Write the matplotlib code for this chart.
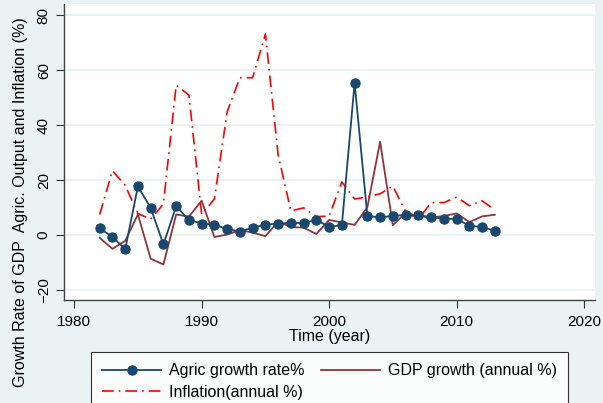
import matplotlib
matplotlib.use("Agg")
import matplotlib.pyplot as plt
from matplotlib.lines import Line2D

years = list(range(1982, 2014))
agric = [2.4, -0.6, -5.2, 17.7, 9.9, -3.4, 10.5, 5.5, 4.2, 3.8, 2.2, 1.3, 2.7, 3.8, 4.2, 4.4,
         4.4, 5.5, 3.0, 3.6, 55.3, 7.0, 6.4, 7.0, 7.3, 7.3, 6.5, 5.9, 5.9, 3.4, 2.9, 1.6]
gdp = [-1.0, -5.0, -2.1, 7.5, -8.6, -10.7, 7.5, 6.7, 12.5, -0.7, 0.2, 1.8, 0.9, -0.4, 4.9, 2.9,
       2.7, 0.4, 5.5, 4.6, 3.7, 10.1, 33.9, 3.6, 8.1, 6.9, 6.4, 6.9, 7.9, 4.7, 6.8, 7.4]
inflation = [7.5, 23.4, 18.1, 7.8, 5.8, 11.3, 54.5, 50.9, 7.5, 13.1, 44.8, 57.2, 57.2, 73.1, 29.1, 8.8,
             9.9, 6.7, 6.9, 19.3, 13.1, 13.9, 15.0, 17.8, 8.5, 5.7, 11.8, 11.8, 13.8, 10.7, 12.5, 9.1]
xticks = [1980, 1990, 2000, 2010, 2020]
yticks = [-20, 0, 20, 40, 60, 80]

plt.rcParams['font.family'] = ['Liberation Sans', 'DejaVu Sans']

bg = '#eaf2f3'
navy = '#1a476f'
maroon = '#90353b'
red = '#ff0000'
dashdot = (0, (7, 3, 1, 3))

fig = plt.figure(figsize=(6.03, 4.03), dpi=100, facecolor=bg)
ax = fig.add_axes([64/603, 1-300/403, 531/603, 296/403])
ax.set_facecolor('white')

for v in yticks:
    ax.axhline(v, color=bg, lw=1.3, zorder=0)

ax.plot(years, agric, color=navy, lw=1.3, marker='o', ms=6.5, zorder=3)
ax.plot(years, gdp, color=maroon, lw=1.3, zorder=2)
ax.plot(years, inflation, color=red, lw=1.2, linestyle=dashdot, zorder=2)

ax.set_xlim(1979.2, 2020.86)
ax.set_ylim(-23.6, 84)
ax.set_xticks(xticks)
ax.set_yticks(yticks)
ax.tick_params(axis='both', labelsize=11, length=6, width=0.8, color='#333333')
ax.tick_params(axis='x', pad=5)
for lab in ax.get_yticklabels():
    lab.set_rotation(90)
    lab.set_va('center')
for s in ['top', 'right']:
    ax.spines[s].set_visible(False)
for s in ['left', 'bottom']:
    ax.spines[s].set_color('#444444')
    ax.spines[s].set_linewidth(1.0)

ax.set_xlabel('Time (year)', fontsize=11.5)
ax.xaxis.set_label_coords((330-64)/531, -(337-300)/296)
ax.xaxis.label.set_va('center')
ax.set_ylabel('Growth Rate of GDP  Agric. Output and Inflation (%)', fontsize=11.5)
ax.yaxis.set_label_coords(-(64-21)/531, (300-202)/296)
ax.yaxis.label.set_va('center')

h = [Line2D([0, 0.5, 1], [0, 0, 0], color=navy, lw=1.3, marker='o', ms=6.5, markevery=[1]),
     Line2D([], [], color=red, lw=1.2, linestyle=dashdot),
     Line2D([], [], color=maroon, lw=1.3)]
labels = ['Agric growth rate%', 'Inflation(annual %)', 'GDP growth (annual %)']
leg = fig.legend(h, labels, ncol=2,
                 loc='upper left', bbox_to_anchor=(91/603, 0, (568-91)/603, 1-352/403),
                 mode='expand', fontsize=11.5, frameon=True, fancybox=False,
                 edgecolor='black', facecolor='white', handlelength=3.7, handletextpad=0.5,
                 borderaxespad=0, borderpad=0.7, labelspacing=0.4, columnspacing=1.5)
leg.get_frame().set_linewidth(0.8)

fig.savefig('out.png', dpi=100, facecolor=bg)
